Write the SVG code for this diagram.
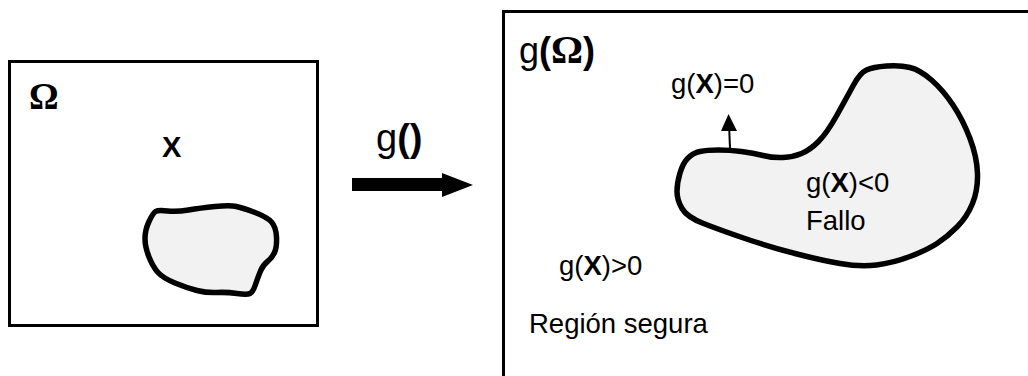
<svg xmlns="http://www.w3.org/2000/svg" width="1028" height="376" viewBox="0 0 1028 376">
<style>
.box{fill:none;stroke:#000;stroke-width:3}
.blob{fill:#f2f2f2;stroke:#000;stroke-width:5.5;stroke-linejoin:round}
.t{font-family:"Liberation Sans",Arial,sans-serif;font-size:27.5px;fill:#000}
.b{font-weight:bold}
.om{font-family:"Liberation Serif","Times New Roman",serif;font-weight:bold}
</style>
<rect width="1028" height="376" fill="#fff"/>
<g id="domain">
<rect class="box" x="9.5" y="61.5" width="308" height="264"/>
<text class="t om" x="29" y="109" style="font-size:37px">Ω</text>
<text class="t b" x="162" y="157" style="font-size:29px">X</text>
<path class="blob" d="M 167.5,211 Q 177,212 188.5,210 Q 200,208 215,206.5 Q 230,205 236.5,206.5 Q 243,208 255,212.5 Q 267,217 271.5,222 Q 276,227 276.5,237 Q 277,247 274.5,252.5 Q 272,258 267.5,261.5 Q 263,265 260.5,271 Q 258,277 255.5,284.5 Q 253,292 250,293.5 Q 247,295 237,293.5 Q 227,292 217,292.5 Q 207,293 197,290.5 Q 187,288 175,283 Q 163,278 158,272.5 Q 153,267 149,257 Q 145,247 145,238.5 Q 145,230 149,221.5 Q 153,213 155.5,211.5 Q 158,210 167.5,211 Z"/>
</g>
<g id="mapping">
<text class="t" x="376" y="151" style="font-size:38px">g<tspan class="b">()</tspan></text>
</g>
<g id="image">
<rect class="box" x="503.5" y="11.5" width="540" height="380"/>
<text class="t" x="519" y="63" style="font-size:36px">g<tspan class="b">(</tspan><tspan class="om" style="font-size:40px">Ω</tspan><tspan class="b">)</tspan></text>
<path class="blob" d="M 700,151.5 Q 707,150 718.5,150 Q 730,150 741.5,151.5 Q 753,153 763,155.5 Q 773,158 783,157.5 Q 793,157 801.5,153.5 Q 810,150 818.5,141.5 Q 827,133 837,115 Q 847,97 853.5,85 Q 860,73 866.5,70 Q 873,67 886.5,66 Q 900,65 910,67.5 Q 920,70 931.5,80 Q 943,90 953,105 Q 963,120 970,138.5 Q 977,157 977.5,173.5 Q 978,190 972.5,203.5 Q 967,217 957,227 Q 947,237 937,243.5 Q 927,250 910,256.5 Q 893,263 876.5,265 Q 860,267 840,263.5 Q 820,260 795,253.5 Q 770,247 745,238.5 Q 720,230 703.5,223.5 Q 687,217 682,208.5 Q 677,200 677,191.5 Q 677,183 680,173 Q 683,163 688,158 Q 693,153 700,151.5 Z"/>
<text class="t" x="671" y="93">g(<tspan class="b">X</tspan>)=0</text>
<text class="t" x="806" y="192">g(<tspan class="b">X</tspan>)&lt;0</text>
<text class="t" x="806" y="230">Fallo</text>
<text class="t" x="559" y="275">g(<tspan class="b">X</tspan>)&gt;0</text>
<text class="t" x="529" y="333">Región segura</text>
</g>
<g id="connectors">
<polygon points="352,178 442,178 442,173 473,185 442,197 442,191 352,191" fill="#000"/>
<line x1="730" y1="149" x2="729.2" y2="128" stroke="#000" stroke-width="2"/>
<polygon points="721,131 728.5,114 737,131" fill="#000"/>
</g>
</svg>
